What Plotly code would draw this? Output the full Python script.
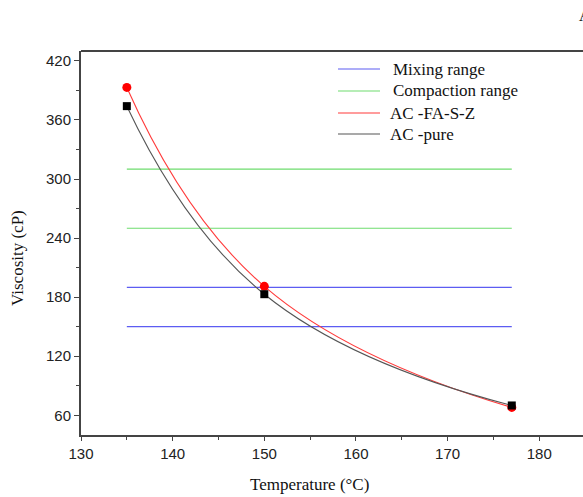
import plotly.graph_objects as go

# Data
temps = [135, 150, 177]
ac_fa_s_z = [393, 191, 68]
ac_pure = [374, 183, 70]
range_x = [135, 177]
mixing_range = [150, 190]
compaction_range = [250, 310]

x_ticks = [130, 140, 150, 160, 170, 180]
y_ticks = [60, 120, 180, 240, 300, 360, 420]

legend_labels = ["Mixing range", "Compaction range", "AC -FA-S-Z", "AC -pure"]

BLUE = "#5c5cf2"
GREEN = "#6edc6e"
RED = "#ff3b3b"
GRAYLINE = "#555555"
AXIS = "#444444"
legend_colors = [BLUE, GREEN, RED, GRAYLINE]

fig = go.Figure()

# Range lines
for v in mixing_range:
    fig.add_trace(go.Scatter(x=range_x, y=[v, v], mode="lines",
                             line=dict(color=BLUE, width=1.2),
                             name="Mixing range", showlegend=False))
for v in compaction_range:
    fig.add_trace(go.Scatter(x=range_x, y=[v, v], mode="lines",
                             line=dict(color=GREEN, width=1.2),
                             name="Compaction range", showlegend=False))

# Curves
fig.add_trace(go.Scatter(x=temps, y=ac_fa_s_z, mode="lines",
                         line=dict(color=RED, width=1.1, shape="spline", smoothing=1.3),
                         name="AC -FA-S-Z", showlegend=False))
fig.add_trace(go.Scatter(x=temps, y=ac_pure, mode="lines",
                         line=dict(color=GRAYLINE, width=1.1, shape="spline", smoothing=1.3),
                         name="AC -pure", showlegend=False))

# Markers
fig.add_trace(go.Scatter(x=temps, y=ac_fa_s_z, mode="markers",
                         marker=dict(symbol="circle", size=9, color="#ff0000"),
                         name="AC -FA-S-Z", showlegend=False))
fig.add_trace(go.Scatter(x=temps, y=ac_pure, mode="markers",
                         marker=dict(symbol="square", size=8, color="#000000"),
                         name="AC -pure", showlegend=False))

tickfont = dict(family="Liberation Sans, Arial, sans-serif", size=15, color="#222222")

fig.update_xaxes(range=[130, 184.77], tickvals=x_ticks, ticks="outside", ticklen=4,
                 tickwidth=1.2, tickcolor=AXIS, showline=True, linecolor=AXIS,
                 linewidth=2, showgrid=False, zeroline=False, tickfont=tickfont,
                 minor=dict(dtick=5, tick0=130, ticks="outside", ticklen=3,
                            tickcolor=AXIS, tickwidth=1.2, showgrid=False))
fig.update_yaxes(range=[40, 430], tickvals=y_ticks, ticks="outside", ticklen=5,
                 tickwidth=1.2, tickcolor=AXIS, showline=True, linecolor=AXIS,
                 linewidth=2, showgrid=False, zeroline=False, tickfont=tickfont,
                 minor=dict(dtick=30, tick0=30, ticks="outside", ticklen=3,
                            tickcolor=AXIS, tickwidth=1.2, showgrid=False))

serif = "Liberation Serif, Times New Roman, serif"

PL, PT, PW, PH = 81, 51, 502, 384


def px_x(p):
    return (p - PL) / PW


def px_y(p):
    return (PT + PH - p) / PH


shapes = [dict(type="line", xref="paper", yref="paper", x0=0, x1=1, y0=1, y1=1,
               line=dict(color=AXIS, width=2))]
annotations = [
    dict(text="Temperature (°C)", xref="paper", yref="paper",
         x=px_x(309), y=px_y(484), xanchor="center", yanchor="middle",
         showarrow=False, font=dict(family=serif, size=17, color="#111111")),
    dict(text="Viscosity (cP)", xref="paper", yref="paper",
         x=px_x(17), y=px_y(258), xanchor="center", yanchor="middle", textangle=-90,
         showarrow=False, font=dict(family=serif, size=17, color="#111111")),
    dict(text="A", xref="paper", yref="paper", x=px_x(577), y=px_y(15),
         xanchor="left", yanchor="middle", showarrow=False,
         font=dict(family=serif, size=16, color="#111111")),
]

# Manual legend (sample line + label)
legend_rows = [69, 91, 113, 134]
legend_text_x = [391, 391, 388, 388]
for label, color, ry, tx in zip(legend_labels, legend_colors, legend_rows, legend_text_x):
    shapes.append(dict(type="line", xref="paper", yref="paper",
                       x0=px_x(338), x1=px_x(380), y0=px_y(ry), y1=px_y(ry),
                       line=dict(color=color, width=1.1)))
    annotations.append(dict(text=label, xref="paper", yref="paper",
                            x=px_x(tx), y=px_y(ry), xanchor="left", yanchor="middle",
                            showarrow=False,
                            font=dict(family=serif, size=17, color="#111111")))

fig.update_layout(
    width=583, height=497,
    margin=dict(l=PL, r=0, t=PT, b=497 - PT - PH),
    plot_bgcolor="white", paper_bgcolor="white",
    showlegend=False,
    hovermode=False,
    shapes=shapes,
    annotations=annotations,
)

fig.write_html("out.html", config={"displayModeBar": False},
               post_script="document.body.style.margin='0';")
